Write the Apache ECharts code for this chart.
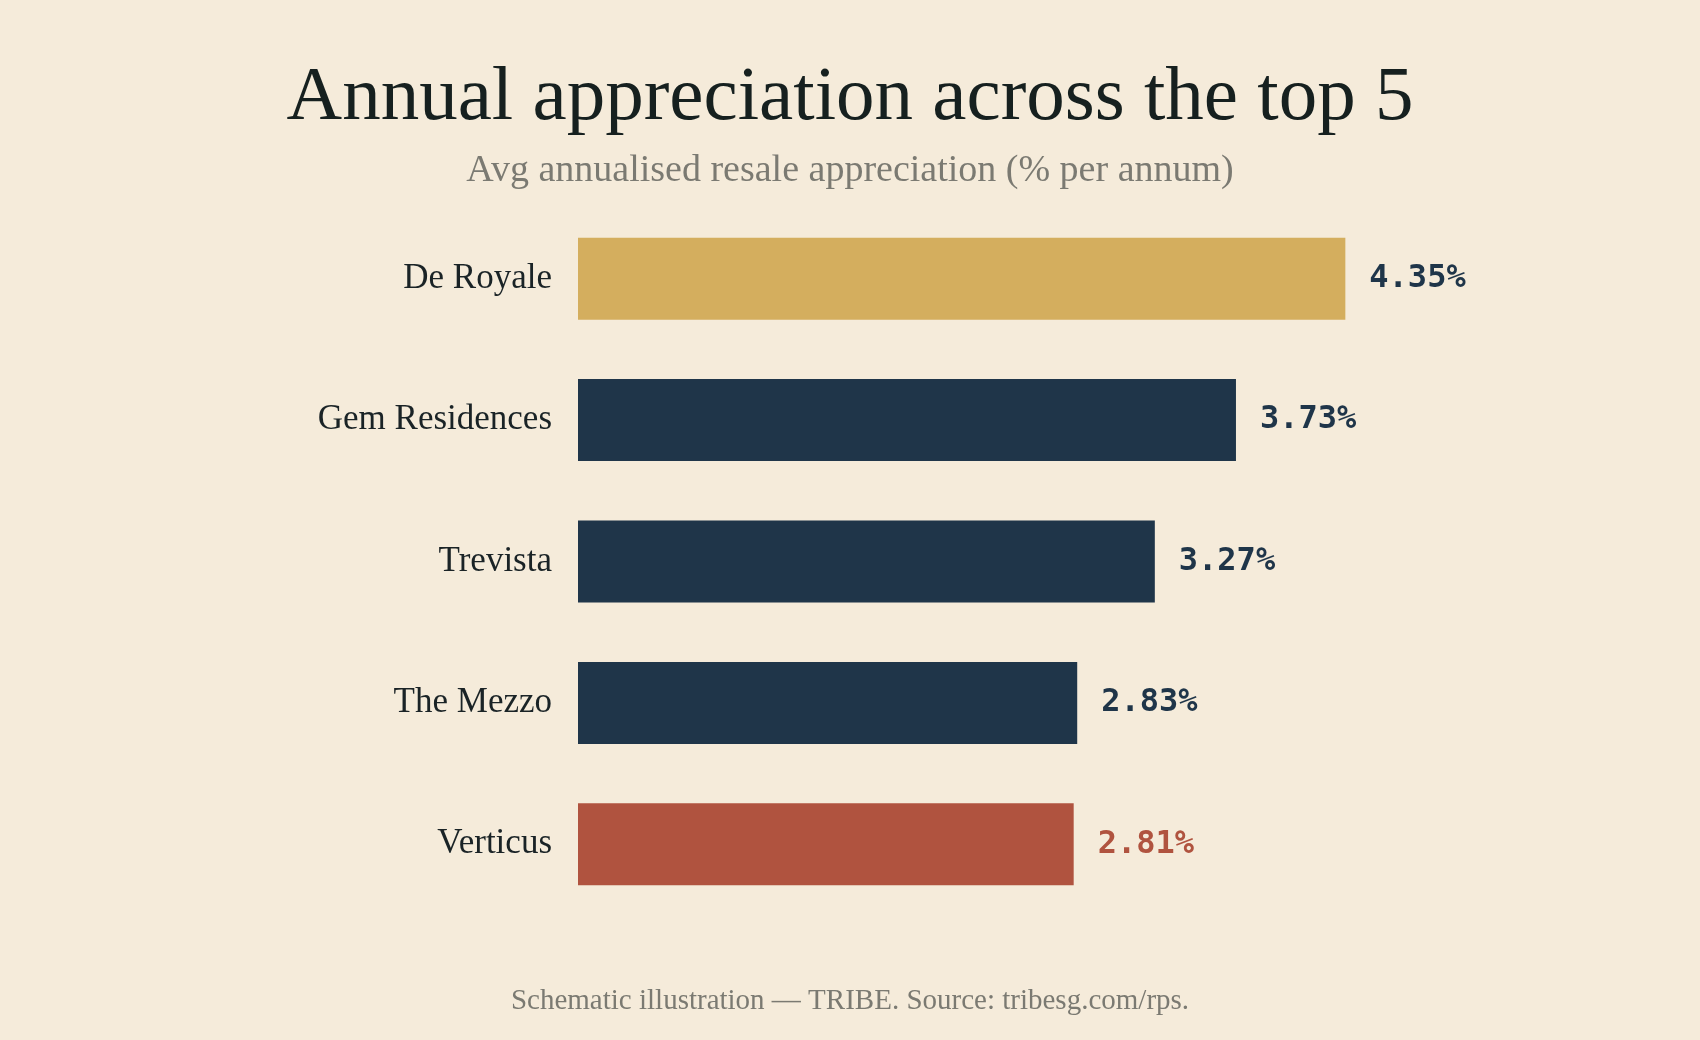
<!DOCTYPE html>
<html>
<head>
<meta charset="utf-8">
<style>
  html, body { margin: 0; padding: 0; background: #f5ebda; }
  #chart { width: 1700px; height: 1040px; }
</style>
<script src="https://cdn.jsdelivr.net/npm/echarts@6/dist/echarts.min.js"></script>
</head>
<body>
<div id="chart"></div>
<script>
// data
const projects = ['De Royale', 'Gem Residences', 'Trevista', 'The Mezzo', 'Verticus']
const appreciation = [4.35, 3.73, 3.27, 2.83, 2.81]
const barColors = ['#d4ae5e', '#1f3549', '#1f3549', '#1f3549', '#b0533f']
const labelColors = ['#1f3549', '#1f3549', '#1f3549', '#1f3549', '#b0533f']

const serif = '"Liberation Serif", "DejaVu Serif", serif'
const mono = '"DejaVu Sans Mono", "Liberation Mono", monospace'

const mychart = echarts.init(document.getElementById('chart'))

let option = {
    backgroundColor: '#f5ebda',
    animation: false,
    title: [
        {
            text: 'Annual appreciation across the top 5',
            left: 'center',
            top: 55,
            textStyle: { fontFamily: serif, fontSize: 77, fontWeight: 'normal', color: '#16201f' },
        },
        {
            text: 'Avg annualised resale appreciation (% per annum)',
            left: 'center',
            top: 147,
            textStyle: { fontFamily: serif, fontSize: 38, fontWeight: 'normal', color: '#7b7a72' },
        },
        {
            text: 'Schematic illustration — TRIBE. Source: tribesg.com/rps.',
            left: 'center',
            top: 982,
            textStyle: { fontFamily: serif, fontSize: 29, fontWeight: 'normal', color: '#7b7a72' },
        },
    ],
    grid: {
        left: 578,
        right: 240,
        top: 208,
        bottom: 125,
    },
    xAxis: {
        type: 'value',
        min: 0,
        max: 5,
        show: false,
    },
    yAxis: {
        type: 'category',
        inverse: true,
        data: projects,
        axisLine: { show: false },
        axisTick: { show: false },
        axisLabel: {
            margin: 26,
            fontFamily: serif,
            fontSize: 35,
            color: '#1a2326',
        },
    },
    series: [
        {
            type: 'bar',
            barWidth: 82,
            data: appreciation.map((v, i) => ({
                value: v,
                itemStyle: { color: barColors[i] },
                label: { color: labelColors[i] },
            })),
            label: {
                show: true,
                position: 'right',
                distance: 24,
                fontFamily: mono,
                fontWeight: 'bold',
                fontSize: 32,
                formatter: p => p.value.toFixed(2) + '%',
            },
        },
    ],
}

mychart.setOption(option)
</script>
</body>
</html>
